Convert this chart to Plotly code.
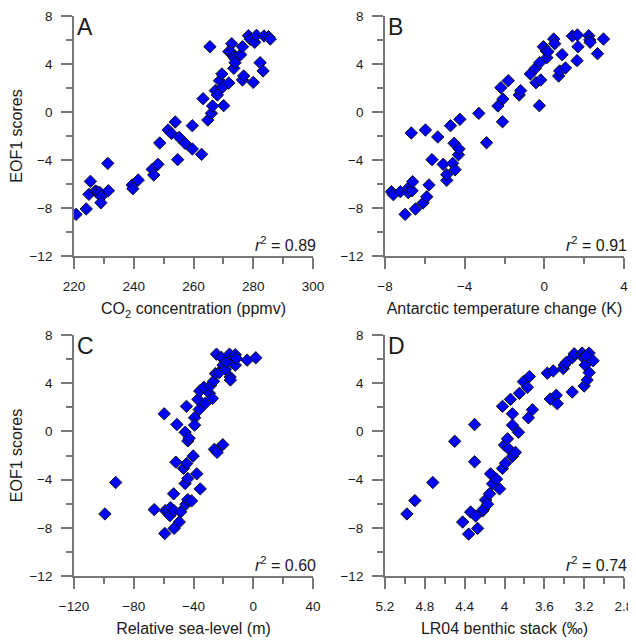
import plotly.graph_objects as go

# Panel A: CO2 concentration (ppmv) vs EOF1 scores
co2 = [220.7, 224.1, 225.0, 225.5, 227.2, 227.9, 228.7, 229.1, 229.0, 231.5, 231.3, 239.5, 239.7, 241.5,
       246.2, 246.7, 248.1, 248.7, 251.5, 252.6, 253.9, 255.2, 254.7, 257.2, 259.6, 259.6, 262.7, 263.2,
       264.8, 266.0, 266.4, 265.5, 267.3, 268.0, 268.7, 269.5, 269.7, 270.1, 271.8, 271.8, 272.8, 272.7,
       273.5, 273.9, 273.5, 273.9, 275.8, 276.4, 276.4, 276.8, 278.4, 279.0, 280.0, 280.5, 281.1, 282.3,
       283.3, 283.6, 285.1, 285.7]
eof_a = [-8.53, -8.08, -6.86, -5.78, -6.58, -6.67, -6.72, -7.06, -7.56, -6.56, -4.28, -6.08, -6.39, -5.67,
         -4.78, -5.25, -4.36, -2.58, -1.5, -1.78, -0.83, -2.11, -3.97, -2.61, -1.14, -3.08, -3.53, 1.11,
         -0.67, -0.11, 0.5, 5.44, 1.78, 1.42, 2.61, 3.17, 2.06, 0.53, 2.42, 5.03, 5.69, 4.97,
         4.61, 4.44, 3.64, 4.11, 4.78, 5.44, 2.67, 3.0, 6.36, 6.06, 2.47, 5.81, 6.39, 4.11,
         3.42, 6.33, 6.28, 6.08]

# Panel B: Antarctic temperature change (K)
temp = [-7.68, -7.58, -7.23, -6.86, -6.83, -6.64, -6.61, -6.99, -6.47, -6.68, -6.09, -5.90, -5.79, -5.97,
        -5.64, -5.35, -5.08, -4.90, -4.90, -4.71, -4.60, -4.53, -4.48, -4.31, -4.28, -4.24, -3.29, -2.90,
        -2.33, -2.18, -2.08, -2.10, -1.81, -1.26, -1.19, -0.70, -0.42, -0.45, -0.23, -0.18, -0.25, -0.05,
        0.10, 0.13, 0.18, 0.47, 0.52, 0.72, 0.77, 0.89, 1.06, 1.41, 1.66, 1.69, 1.64, 2.23, 2.28, 2.30,
        2.67, 2.97]
eof_b = [-6.64, -6.89, -6.64, -6.39, -6.72, -6.56, -5.81, -8.53, -8.08, -1.75, -7.58, -7.06, -6.08, -1.5,
         -3.97, -2.08, -4.36, -5.69, -5.22, -1.14, -4.28, -2.61, -4.81, -3.56, -3.08, -0.61, -0.11, -2.56,
         0.5, 2.03, 1.08, -0.81, 2.61, 1.42, 1.78, 3.17, 2.44, 3.64, 4.11, 2.67, 0.53, 5.44,
         5.08, 4.53, 5.03, 6.08, 5.69, 3.0, 3.42, 4.78, 3.67, 6.33, 6.42, 5.44, 4.28, 6.36, 6.0, 5.81,
         4.86, 6.08]

# Panel C: Relative sea-level (m)
rsl = [-99.3, -92.1, -66.3, -58.9, -57.6, -55.4, -55.8, -53.1, -53.3, -48.6, -49.5, -53.0, -59.2, -51.8,
       -46.7, -44.5, -40.2, -45.6, -43.8, -37.8, -35.5, -45.1, -43.8, -41.3, -59.6, -51.1, -45.6, -43.8,
       -42.9, -44.7, -39.3, -39.3, -36.2, -37.1, -32.0, -35.8, -33.1, -29.3, -28.6, -27.3, -26.6, -25.3,
       -26.0, -24.2, -20.4, -24.6, -22.8, -21.3, -19.7, -20.2, -18.6, -17.9, -15.9, -15.5, -15.3, -12.4,
       -12.0, -12.0, -11.3, -4.1, 1.7]
eof_c = [-6.85, -4.24, -6.49, -6.57, -6.60, -6.32, -6.99, -6.57, -5.18, -6.68, -7.52, -8.05, -8.47, -2.55,
         -3.07, -2.66, -2.04, -4.32, -3.91, -3.52, -4.77, -6.05, -5.66, -5.77, 1.46, 0.57, -0.07, -0.79,
         -0.57, 2.08, 1.13, 0.52, 1.82, 2.66, 2.35, 3.35, 3.66, 3.16, 3.80, 2.74, 4.16, 4.80,
         -1.49, -1.74, -1.10, 6.41, 4.88, 6.14, 5.30, 5.50, 5.16, 5.77, 6.41, 4.52, 4.27, 6.19,
         6.36, 5.50, 6.05, 5.91, 6.11]

# Panel D: LR04 benthic stack (permil)
lr04 = [4.98, 4.90, 4.72, 4.50, 4.30, 4.30, 4.42, 4.36, 4.34, 4.29, 4.27, 4.22, 4.21, 4.19, 4.17, 4.15,
        4.14, 4.12, 4.08, 4.05, 4.02, 3.99, 4.00, 3.97, 3.96, 3.92, 3.89, 3.86, 3.92, 3.92, 4.02, 3.94,
        3.85, 3.81, 3.77, 3.75, 3.76, 3.72, 3.57, 3.51, 3.54, 3.48, 3.47, 3.41, 3.40, 3.38, 3.32, 3.30,
        3.32, 3.22, 3.21, 3.19, 3.20, 3.17, 3.15, 3.15, 3.18, 3.11]
eof_d = [-6.85, -5.74, -4.24, -0.82, 0.57, -2.52, -7.52, -8.52, -6.69, -7.02, -8.05, -6.60, -6.46, -5.69,
         -6.05, -5.18, -3.52, -4.35, -3.96, -4.77, -3.07, -2.63, -1.13, -0.62, -1.43, -2.07, -1.74, -0.07,
         0.52, 1.46, 2.08, 2.66, 3.16, 4.13, 3.66, 4.55, 1.13, 1.80, 4.83, 5.02, 2.69, 3.0, 2.30, 5.22,
         5.50, 5.72, 6.11, 6.44, 3.27, 6.50, 6.14, 5.50, 3.77, 4.27, 4.88, 6.50, 6.27, 5.86]

panel_letters = ["A", "B", "C", "D"]
r2_values = ["0.89", "0.91", "0.60", "0.74"]
x_titles = ["CO<sub>2</sub> concentration (ppmv)", "Antarctic temperature change (K)",
            "Relative sea-level (m)", "LR04 benthic stack (‰)"]
y_title = "EOF1 scores"

# page body has an 8px default margin: lay out in window pixels, shifted by 8
OFF = 8
W, H = 636 - OFF, 644 - OFF
def fx(p): return (p - OFF) / W
def fy(p): return 1 - (p - OFF) / H

xdoms = [[fx(74), fx(313)], [fx(385), fx(624)], [fx(74), fx(313)], [fx(385), fx(624)]]
ydoms = [[fy(256), fy(16)], [fy(256), fy(16)], [fy(576), fy(335)], [fy(576), fy(335)]]
xranges = [[220, 300], [-8, 4], [-120, 40], [5.2, 2.8]]
xdticks = [20, 4, 40, 0.4]
xminor = [10, 2, 20, 0.2]
xtick0 = [0, 0, 0, 0.4]

data = [(co2, eof_a), (temp, eof_b), (rsl, eof_c), (lr04, eof_d)]

fig = go.Figure()
axcol = "#777777"
txtcol = "#1a1a1a"
font_fam = "Liberation Sans, Arial, sans-serif"

for i, (xs, ys) in enumerate(data):
    n = "" if i == 0 else str(i + 1)
    fig.add_trace(go.Scatter(
        x=xs, y=ys, mode="markers", xaxis="x" + n, yaxis="y" + n, showlegend=False,
        marker=dict(symbol="diamond", size=9.5, color="#0000FF",
                    line=dict(color="#111111", width=1))))
    common = dict(showline=True, linecolor=axcol, linewidth=1.8, ticks="outside", ticklen=11,
                  tickcolor=axcol, tickwidth=1.8, showgrid=False, zeroline=False, automargin=False,
                  tickfont=dict(size=13.5, color=txtcol, family=font_fam))
    fig.layout["xaxis" + n] = dict(
        domain=xdoms[i], range=xranges[i], dtick=xdticks[i], tick0=xtick0[i],
        anchor="y" + n, ticklabelstandoff=6,
        minor=dict(dtick=xminor[i], tick0=xtick0[i], ticks="outside", ticklen=6,
                   tickcolor=axcol, tickwidth=1.8, showgrid=False),
        title=dict(text=x_titles[i], standoff=10, font=dict(size=16, color=txtcol, family=font_fam)),
        **common)
    fig.layout["yaxis" + n] = dict(
        domain=ydoms[i], range=[-12, 8], dtick=4, tick0=0, anchor="x" + n, ticklabelstandoff=6,
        minor=dict(dtick=2, ticks="outside", ticklen=6, tickcolor=axcol, tickwidth=1.8, showgrid=False),
        title=dict(text=y_title if i in (0, 2) else "", standoff=8,
                   font=dict(size=16, color=txtcol, family=font_fam)),
        **common)
    xref = "x" + n + " domain"
    yref = "y" + n + " domain"
    fig.add_annotation(x=0.005, y=1.015, xref=xref, yref=yref, text=panel_letters[i],
                       showarrow=False, xanchor="left", yanchor="top",
                       font=dict(size=23, color=txtcol, family=font_fam))
    fig.add_annotation(x=1.02, y=0.0, xref=xref, yref=yref,
                       text="<i>r</i><sup>2</sup> = " + r2_values[i],
                       showarrow=False, xanchor="right", yanchor="bottom",
                       font=dict(size=16, color=txtcol, family=font_fam))

fig.update_layout(width=W, height=H, margin=dict(l=0, r=0, t=0, b=0),
                  plot_bgcolor="white", paper_bgcolor="white",
                  font=dict(family=font_fam, color=txtcol))
fig.write_html("out.html")
